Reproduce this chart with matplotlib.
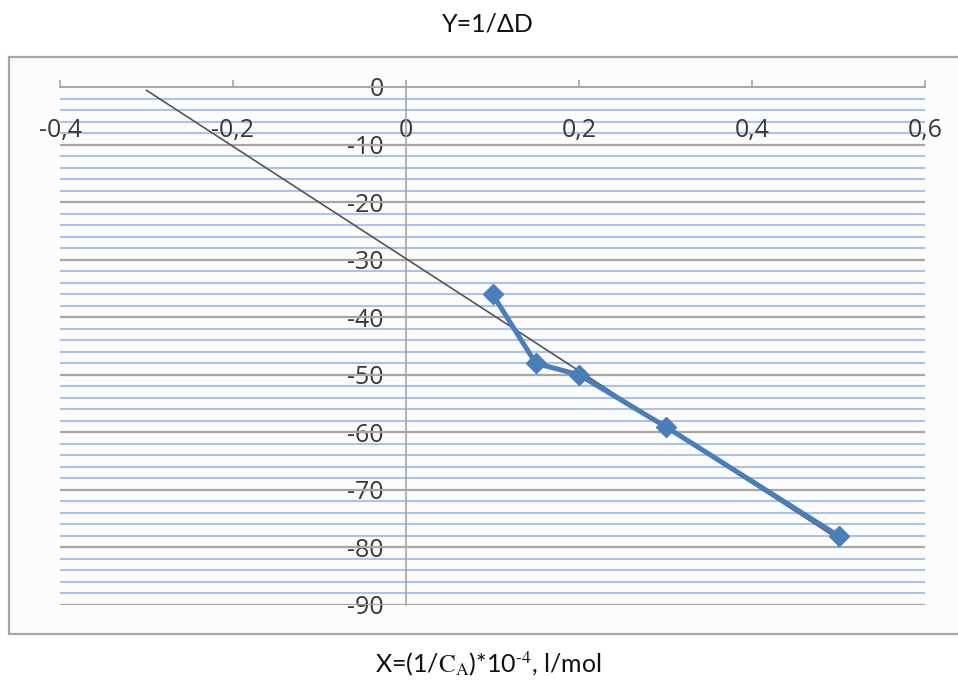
import numpy as np
import matplotlib
matplotlib.use('Agg')
import matplotlib.pyplot as plt
from matplotlib.patches import Rectangle

# data
x_vals = [0.1, 0.15, 0.2, 0.3, 0.5]
y_vals = [-36, -48, -50, -59, -78]

# linear trend line, forecast backwards to x = -0.3
trend_range = [-0.3, 0.5]

x_ticks = [-0.4, -0.2, 0.0, 0.2, 0.4, 0.6]
x_ticklabels = ['-0,4', '-0,2', '0', '0,2', '0,4', '0,6']
y_ticks = [0, -10, -20, -30, -40, -50, -60, -70, -80, -90]
y_ticklabels = ['0', '-10', '-20', '-30', '-40', '-50', '-60', '-70', '-80', '-90']

fig = plt.figure(figsize=(9.58, 6.8), dpi=100)

# chart area frame
frame = Rectangle((9 / 958, 1 - 634 / 680), 1.0, (634 - 57) / 680,
                  transform=fig.transFigure, facecolor='#fcfcfc',
                  edgecolor='#a6a6a6', linewidth=1.6, zorder=-5)
fig.patches.append(frame)

ax = fig.add_axes([60 / 958, 1 - 605 / 680, (925 - 60) / 958, (605 - 87) / 680])
ax.set_facecolor('none')
ax.set_zorder(2)

ax.set_xlim(-0.4, 0.6)
ax.set_ylim(-90, 0)

# gridlines: gray major every 10, blue minor every 2
for v in np.arange(-88, 0, 2):
    if v % 10 != 0:
        ax.axhline(v, color='#abc3ea', lw=1.5, zorder=1)
for v in y_ticks[1:]:
    ax.axhline(v, color='#a6a6a6', lw=1.6, zorder=2)

# axes through the origin
for s in ['top', 'right']:
    ax.spines[s].set_visible(False)
ax.spines['bottom'].set_position(('data', 0))
ax.spines['left'].set_position(('data', 0))
ax.spines['bottom'].set_color('#a6a6a6')
ax.spines['left'].set_color('#a6a6a6')
ax.spines['bottom'].set_linewidth(1.4)
ax.spines['left'].set_linewidth(1.2)

ax.set_xticks(x_ticks)
ax.set_xticklabels(x_ticklabels)
ax.set_yticks(y_ticks)
ax.set_yticklabels(y_ticklabels)
ax.tick_params(axis='x', direction='in', length=5, width=1.2, color='#a6a6a6',
               pad=22, labelsize=18, labelcolor='#383838')
ax.tick_params(axis='y', length=0, pad=16, labelsize=18, labelcolor='#383838')
for lab in ax.get_xticklabels() + ax.get_yticklabels():
    lab.set_fontfamily('Open Sans')

# trend line
coef = np.polyfit(x_vals, y_vals, 1)
tx = np.array(trend_range)
ax.plot(tx, np.polyval(coef, tx), color='#555555', lw=1.2, zorder=3)

# series
ax.plot(x_vals, y_vals, color='#4a7ebb', lw=3.6, marker='D', markersize=10,
        zorder=4, clip_on=False)

fig.text(488 / 958, 1 - 24 / 680, 'Y=1/ΔD', ha='center', va='center',
         fontsize=18, family='Lato', color='#111111')
fig.text(488 / 958, 1 - 664 / 680, r'X=(1/$\mathrm{C}_{\mathrm{A}}$)*10$^{\text{-4}}$, l/mol',
         ha='center', va='center', fontsize=18, family='Lato', color='#111111',
         math_fontfamily='stix')

plt.savefig('out.png', dpi=100)
